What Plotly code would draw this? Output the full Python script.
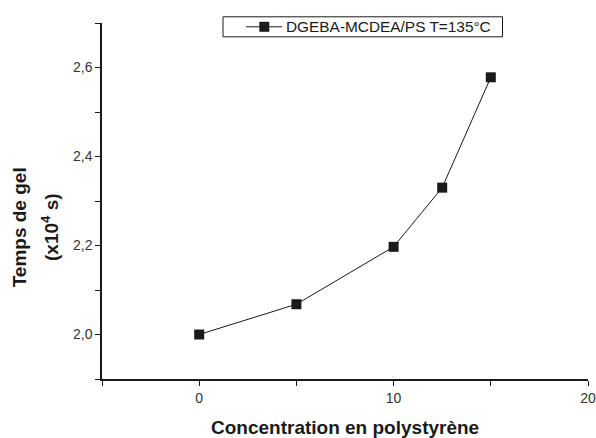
import plotly.graph_objects as go

concentration = [0, 5, 10, 12.5, 15]
temps_gel = [2.0, 2.068, 2.197, 2.33, 2.578]
series_name = "DGEBA-MCDEA/PS T=135°C"
x_title = "Concentration en polystyrène"
y_title_1 = "Temps de gel"
y_title_2 = "(x10<sup>4</sup> s)"

INK = "#1a1a1a"

fig = go.Figure()
fig.add_trace(go.Scatter(
    x=concentration, y=temps_gel, mode="lines+markers", name=series_name,
    line=dict(color=INK, width=1),
    marker=dict(symbol="square", size=10, color=INK),
    showlegend=False,
))

axis_common = dict(
    showgrid=False, zeroline=False, showline=True, linecolor=INK, linewidth=1.5,
    ticks="outside", ticklen=5, tickwidth=1.2, tickcolor=INK,
    tickfont=dict(family="Arial, Liberation Sans", size=14, color="#333333"),
    mirror=False, automargin=False,
)

title_font = dict(family="Arial, Liberation Sans", size=19, color=INK)

# Legend box drawn in paper coordinates (plot area: x 102..588 px, y 23..379 px)
legend_shapes = [
    dict(type="rect", xref="paper", yref="paper", x0=0.2490, x1=0.8241, y0=0.9612, y1=1.0174,
         line=dict(color=INK, width=1), fillcolor="white", layer="above"),
    dict(type="line", xref="paper", yref="paper", x0=0.2963, x1=0.3704, y0=0.9893, y1=0.9893,
         line=dict(color=INK, width=1), layer="above"),
    dict(type="rect", xref="paper", yref="paper", x0=0.3237, x1=0.3442, y0=0.9753, y1=1.0034,
         line=dict(color=INK, width=0), fillcolor=INK, layer="above"),
]

fig.update_layout(
    width=596, height=438,
    margin=dict(l=102, r=8, t=23, b=59, autoexpand=False),
    paper_bgcolor="white", plot_bgcolor="white",
    separators=", ",
    font=dict(family="Arial, Liberation Sans", color=INK),
    showlegend=False,
    xaxis=dict(
        range=[-5, 20], tickmode="linear", tick0=0, dtick=10,
        minor=dict(ticks="outside", dtick=5, tick0=0, ticklen=5, tickcolor=INK, tickwidth=1.2),
        **axis_common,
    ),
    yaxis=dict(
        range=[1.9, 2.7], tickmode="linear", tick0=2.0, dtick=0.2, tickformat=".1f",
        minor=dict(ticks="outside", dtick=0.1, tick0=2.0, ticklen=5, tickcolor=INK, tickwidth=1.2),
        **axis_common,
    ),
    shapes=legend_shapes,
    annotations=[
        dict(text=series_name, xref="paper", yref="paper", x=0.3745, y=0.9893,
             xanchor="left", yanchor="middle", showarrow=False,
             font=dict(family="Arial, Liberation Sans", size=15.4, color=INK)),
        dict(text="<b>" + x_title + "</b>", xref="paper", yref="paper", x=0.5, y=-0.1376,
             xanchor="center", yanchor="middle", showarrow=False, font=title_font),
        dict(text="<b>" + y_title_1 + "</b>", xref="paper", yref="paper", x=-0.168, y=0.427,
             xanchor="center", yanchor="middle", textangle=-90, showarrow=False, font=title_font),
        dict(text="<b>" + y_title_2 + "</b>", xref="paper", yref="paper", x=-0.107, y=0.427,
             xanchor="center", yanchor="middle", textangle=-90, showarrow=False, font=title_font),
    ],
)

fig.write_html(
    "out.html",
    config={"displayModeBar": False},
    post_script="document.documentElement.style.overflow='hidden';document.body.style.margin='0';document.body.style.overflow='hidden';",
)
